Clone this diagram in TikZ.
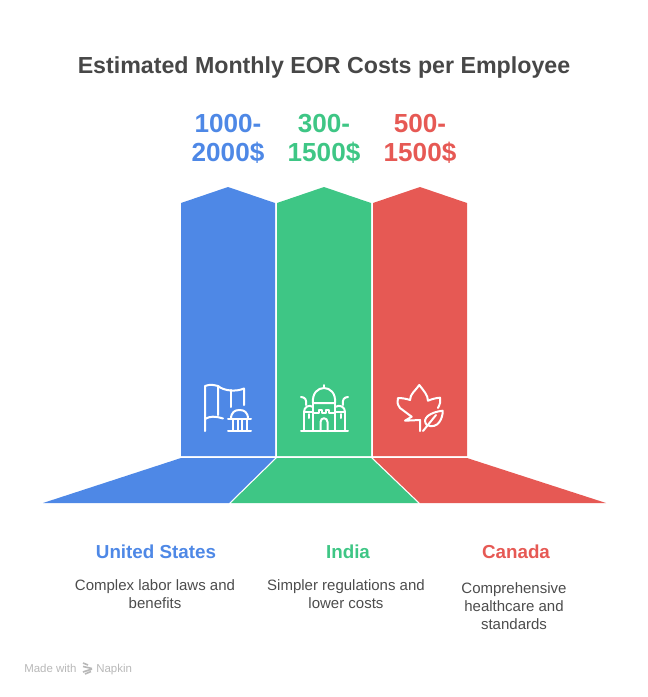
\documentclass[tikz,border=0pt]{standalone}
\usepackage{fontspec}
\setmainfont{Liberation Sans}
\usetikzlibrary{positioning}
\definecolor{usblue}{HTML}{4E88E6}
\definecolor{ingreen}{HTML}{3EC685}
\definecolor{cared}{HTML}{E65954}
\tikzset{
    titletxt/.style={font=\fontsize{17.4}{21}\selectfont\bfseries, text=black!72},
    valuetxt/.style={font=\fontsize{19.6}{21.8}\selectfont\bfseries, align=center, inner sep=0},
    nametxt/.style={font=\fontsize{14.1}{16}\selectfont\bfseries, inner sep=0},
    bodytxt/.style={font=\fontsize{11.25}{13.5}\selectfont, align=center, inner sep=0},
    foottxt/.style={font=\fontsize{8.6}{10}\selectfont, text=black!28, inner sep=0},
    icon/.style={draw=white, line width=1.5, line cap=round, line join=round},
}
\begin{document}
\begin{tikzpicture}[x=0.75pt, y=-0.75pt, node distance=15.5pt]
    \useasboundingbox (0,0) rectangle (648,697);

    \node[titletxt] (title) at (324,67) {Estimated Monthly EOR Costs per Employee};

    \node[valuetxt, text=usblue] (usvalue) at (228,138.5) {1000-\\2000\$};
    \node[valuetxt, text=ingreen] (invalue) at (324,138.5) {300-\\1500\$};
    \node[valuetxt, text=cared] (cavalue) at (420,138.5) {500-\\1500\$};

    % columns
    \fill[usblue] (181,203) -- (228,187) -- (275,203) -- (275,456) -- (181,456) -- cycle;
    \fill[ingreen] (277,203) -- (324,187) -- (371,203) -- (371,456) -- (277,456) -- cycle;
    \fill[cared] (373,203) -- (420,187) -- (467,203) -- (467,456) -- (373,456) -- cycle;

    % feet
    \fill[usblue] (181,458) -- (275,458) -- (229,503) -- (43,503) -- cycle;
    \fill[ingreen] (277,458) -- (371,458) -- (418,503) -- (231,503) -- cycle;
    \fill[cared] (373,458) -- (467,458) -- (606,503) -- (420,503) -- cycle;

    % flag and capitol
    \draw[icon] (205,431) -- (205,386) .. controls (210,384) and (214,385) .. (218,386) -- (218,415);
    \draw[icon] (218,386) .. controls (224,391) and (236,392) .. (244,388.5) -- (244,405);
    \draw[icon] (231,390) -- (231,407);
    \draw[icon] (205,419) .. controls (210,416) and (215,416) .. (223,418.5);
    \draw[icon] (228,431) -- (251,431) (228,419) -- (251,419);
    \draw[icon] (231,419) .. controls (231,412) and (235,410) .. (239.5,410) .. controls (244,410) and (248,412) .. (248,419);
    \foreach \colx in {233,237.5,242,246.5}
        \draw[icon] (\colx,420) -- (\colx,430);

    % mosque
    \draw[icon] (301,431) -- (348,431);
    \draw[icon] (324,385) -- (324,388);
    \draw[icon] (313,403) .. controls (312,393) and (318,388) .. (324,388) .. controls (330,388) and (336,393) .. (335,403) -- cycle;
    \draw[icon] (313,403) -- (313,431) (335,403) -- (335,431);
    \draw[icon] (304,412) -- (304,431) (345,412) -- (345,431) (304,412) -- (313,412) (335,412) -- (345,412);
    \draw[icon] (304,412) .. controls (304,407) and (309,404) .. (313,407);
    \draw[icon] (345,412) .. controls (345,407) and (340,404) .. (335,407);
    \draw[icon] (301,397) .. controls (305,397) and (307,400) .. (306,405);
    \draw[icon] (348,397) .. controls (344,397) and (342,400) .. (343,405);
    \draw[icon] (313,413) -- (319,413) -- (319,410) -- (322,410) -- (322,413) -- (326,413) -- (326,410) -- (329,410) -- (329,413) -- (335,413);
    \draw[icon] (320.5,431) -- (320.5,422) .. controls (320.5,417) and (327.5,417) .. (327.5,422) -- (327.5,431);
    \draw[icon] (308.5,414) -- (308.5,418) (340.5,414) -- (340.5,418);

    % maple leaf and small leaf
    \draw[icon] (420,431) -- (420,420) -- (405,420.7) -- (411.7,416.7) -- (400,408) .. controls (397,404) and (397,401) .. (398,398) .. controls (403,398) and (407,399) .. (410,400) .. controls (410,394) and (416,390) .. (419.3,385) .. controls (423,390) and (428,395) .. (428,400.7) .. controls (432,399) and (436,398) .. (440,397.7) .. controls (441,401) and (440,404) .. (438,408);
    \draw[icon] (423,431) -- (436,415);
    \draw[icon] (426.7,425) .. controls (421,418) and (431,412) .. (442.7,410.7) .. controls (443,418) and (438,430) .. (426.7,425);

    \node[nametxt, text=usblue] (usname) at (156,552) {United States};
    \node[nametxt, text=ingreen] (inname) at (348,552) {India};
    \node[nametxt, text=cared] (caname) at (516,552) {Canada};

    \node[bodytxt, text=black!70, below=of usname, xshift=-0.75pt] (usbody) {Complex labor laws and\\benefits};
    \node[bodytxt, text=black!70, below=of inname, xshift=-1.5pt] (inbody) {Simpler regulations and\\lower costs};
    \node[bodytxt, text=black!70, below=17.5pt of caname, xshift=-1.5pt] (cabody) {Comprehensive\\healthcare and\\standards};

    \node[foottxt, anchor=base west] (made) at (24,672) {Made with};
    \draw[black!28, line width=1.2] (83,663) -- (88,665) (83,666.5) -- (92,668.5) (92,669) -- (83,672) (91,671.5) -- (85,674);
    \node[foottxt, anchor=base west] (napkin) at (96,672) {Napkin};
\end{tikzpicture}
\end{document}
